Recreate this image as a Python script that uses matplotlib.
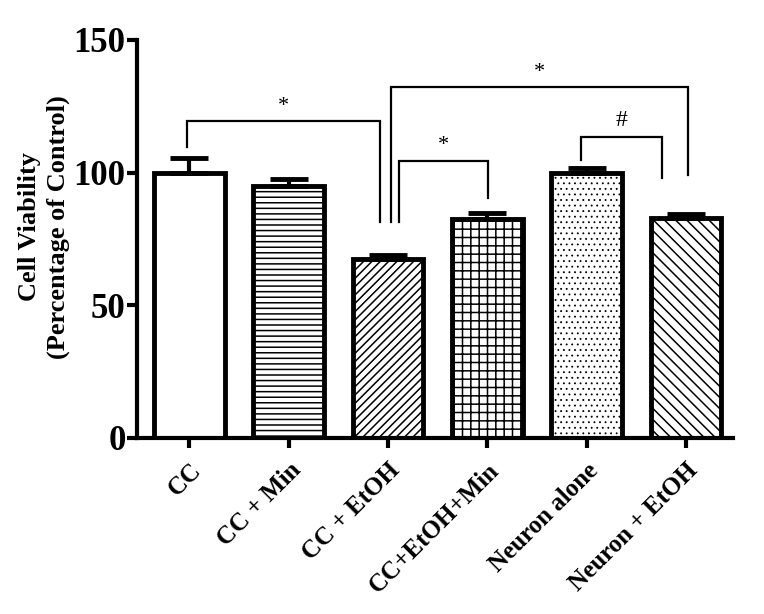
import matplotlib

matplotlib.use("Agg")
import matplotlib.pyplot as plt
import numpy as np

# bar data (percentage of control)
groups = ["CC", "CC + Min", "CC + EtOH", "CC+EtOH+Min", "Neuron alone",
          "Neuron + EtOH"]
viability = [100.0, 95.0, 67.5, 82.5, 100.0, 83.0]
sem = [5.5, 2.5, 1.5, 2.3, 1.8, 1.5]
hatches = ["", "---", "////", "++", "...", "\\\\\\"]

# significance brackets: (x_left, x_right, y_top, y_left_end, y_right_end, mark)
brackets = [
    (-0.02, 1.92, 119.5, 109.5, 81.5, "*"),
    (2.11, 3.01, 104.5, 81.5, 90.5, "*"),
    (2.03, 5.02, 132.3, 81.5, 99.0, "*"),
    (3.94, 4.76, 113.5, 104.8, 98.0, "#"),
]

SERIF = ["Liberation Serif", "DejaVu Serif"]
plt.rcParams.update({
    "font.family": SERIF,
    "font.weight": "bold",
    "hatch.linewidth": 1.1,
    "hatch.color": "black",
})

fig = plt.figure(figsize=(7.64, 6.14), dpi=100)
ax = fig.add_axes([0.179, 0.287, 0.780, 0.648])

x = np.arange(len(groups))
bars = ax.bar(x, viability, width=0.71, color="white", edgecolor="black",
              linewidth=3.5, hatch=hatches, zorder=2)
# finer dots for the stippled bar
if hasattr(bars[4], "set_hatch_linewidth"):
    bars[4].set_hatch_linewidth(0.6)
ax.errorbar(x, viability, yerr=[np.zeros(len(sem)), sem], fmt="none",
            ecolor="black", elinewidth=3, capsize=13.5, capthick=3.5,
            zorder=3)

for xl, xr, yt, yl, yr, mark in brackets:
    ax.plot([xl, xl, xr, xr], [yl, yt, yt, yr], color="black", lw=1.6,
            solid_joinstyle="miter", zorder=4)
    ax.text((xl + xr) / 2, yt + 2.0, mark, ha="center", va="bottom",
            fontsize=17 if mark == "#" else 16, fontweight="normal",
            zorder=4)

ax.set_xlim(-0.53, 5.47)
ax.set_ylim(0, 150)
ax.set_yticks([0, 50, 100, 150])
ax.set_xticks(x)
ax.set_xticklabels(groups, rotation=45, ha="right", rotation_mode="anchor",
                   fontsize=18, fontweight="bold")
ax.tick_params(axis="x", length=7, width=3, pad=8)
ax.tick_params(axis="y", length=7, width=3, pad=1, labelsize=25)
for lab in ax.get_yticklabels():
    lab.set_fontweight("bold")

for side in ("top", "right"):
    ax.spines[side].set_visible(False)
for side in ("left", "bottom"):
    ax.spines[side].set_linewidth(3)

ax.set_ylabel("Cell Viability\n(Percentage of Control)", fontsize=19,
              fontweight="bold", linespacing=1.3)
ax.yaxis.set_label_coords(-0.112, 0.53)

fig.savefig("out.png", dpi=100, facecolor="white")
